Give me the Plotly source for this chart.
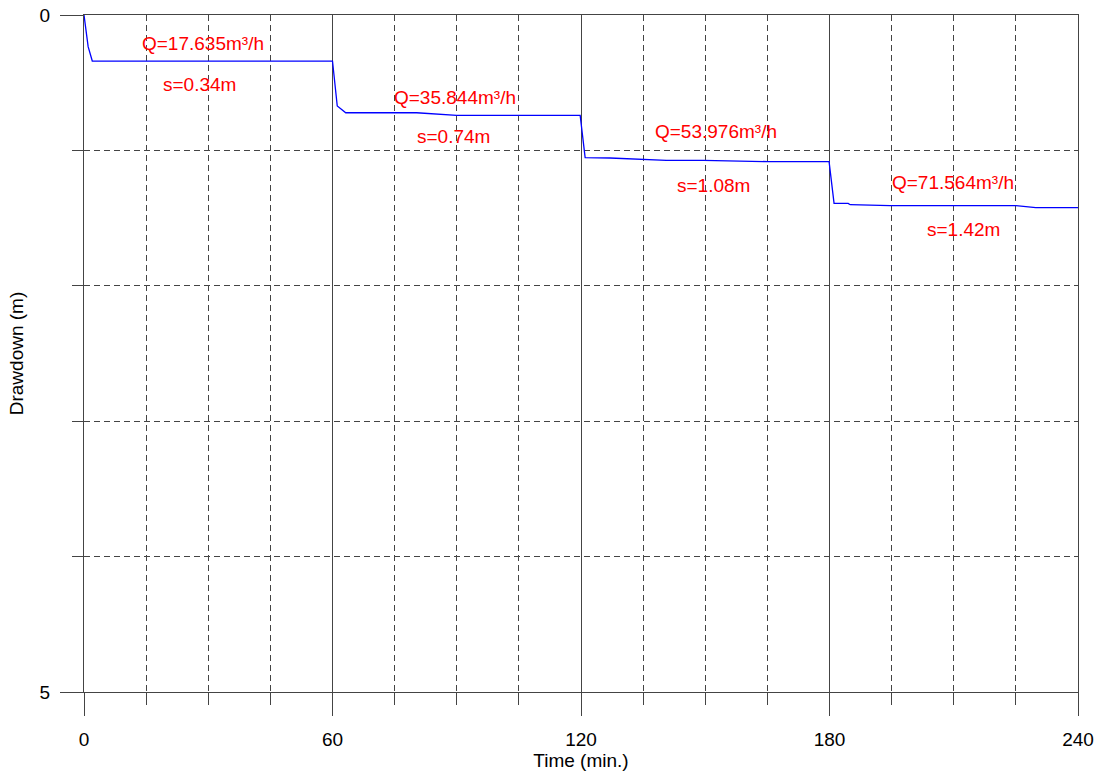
import plotly.graph_objects as go

# Data
time_min = [0, 1.0, 2.0, 60, 61.15, 63.2, 80.3, 90, 119.8, 121, 127, 135, 140.6,
            149.5, 165.2, 179.9, 181.1, 184.5, 185, 194.6, 225, 229.8, 240]
drawdown_m = [0, 0.234, 0.34, 0.34, 0.672, 0.722, 0.722, 0.741, 0.741, 1.053, 1.056,
              1.063, 1.073, 1.073, 1.083, 1.083, 1.391, 1.391, 1.401, 1.408, 1.408,
              1.423, 1.423]

label_text = ["Q=17.635m³/h", "s=0.34m", "Q=35.844m³/h", "s=0.74m",
              "Q=53.976m³/h", "s=1.08m", "Q=71.564m³/h", "s=1.42m"]
label_x = [28.8, 27.9, 89.5, 89.3, 152.6, 152.0, 209.8, 212.3]
label_y = [0.214, 0.51, 0.61, 0.895, 0.864, 1.256, 1.24, 1.584]

x_ticks = [0, 60, 120, 180, 240]
y_ticks = [0, 5]

FONT = "Liberation Sans, Arial, sans-serif"
FS = 19
AX = "#444444"

fig = go.Figure()
fig.add_trace(go.Scatter(x=time_min, y=drawdown_m, mode="lines",
                         line=dict(color="#0000FF", width=1.3),
                         showlegend=False, hoverinfo="skip"))

for t, x, y in zip(label_text, label_x, label_y):
    fig.add_annotation(x=x, y=y, text=t, showarrow=False,
                       xanchor="center", yanchor="middle",
                       font=dict(color="#FF0000", size=FS, family=FONT))

fig.update_layout(
    width=1102, height=776,
    margin=dict(l=84, r=24, t=15, b=84),
    plot_bgcolor="white", paper_bgcolor="white",
    font=dict(family=FONT, size=FS, color="black"),
    xaxis=dict(
        range=[0, 240], tickvals=x_ticks, ticks="outside", ticklen=23,
        tickcolor=AX, tickwidth=1, automargin=False, ticklabelstandoff=7,
        ticklabeloverflow="allow",
        showgrid=True, gridcolor=AX, gridwidth=1,
        showline=True, linecolor=AX, linewidth=1, mirror=True,
        zeroline=False,
        title=dict(text="Time (min.)", font=dict(size=FS), standoff=0),
        minor=dict(dtick=15, tick0=0, ticks="outside", ticklen=12, tickcolor=AX,
                   showgrid=True, gridcolor=AX, griddash="6px,4px", gridwidth=1),
    ),
    yaxis=dict(
        range=[5, 0], tickvals=y_ticks, ticks="outside", ticklen=23,
        tickcolor=AX, tickwidth=1, automargin=False, ticklabelstandoff=6,
        ticklabeloverflow="allow",
        showgrid=True, gridcolor=AX, gridwidth=1,
        showline=True, linecolor=AX, linewidth=1, mirror=True,
        zeroline=False,
        title=dict(text="Drawdown (m)", font=dict(size=FS), standoff=10),
        minor=dict(dtick=1, tick0=0, ticks="outside", ticklen=11, tickcolor=AX,
                   showgrid=True, gridcolor=AX, griddash="6px,4px", gridwidth=1),
    ),
)

# remove the page's default 8px body margin so the figure fills the window
fig.write_html("out.html",
               config={"displayModeBar": False, "staticPlot": True},
               post_script="document.body.style.margin='0';document.body.style.overflow='hidden';")
